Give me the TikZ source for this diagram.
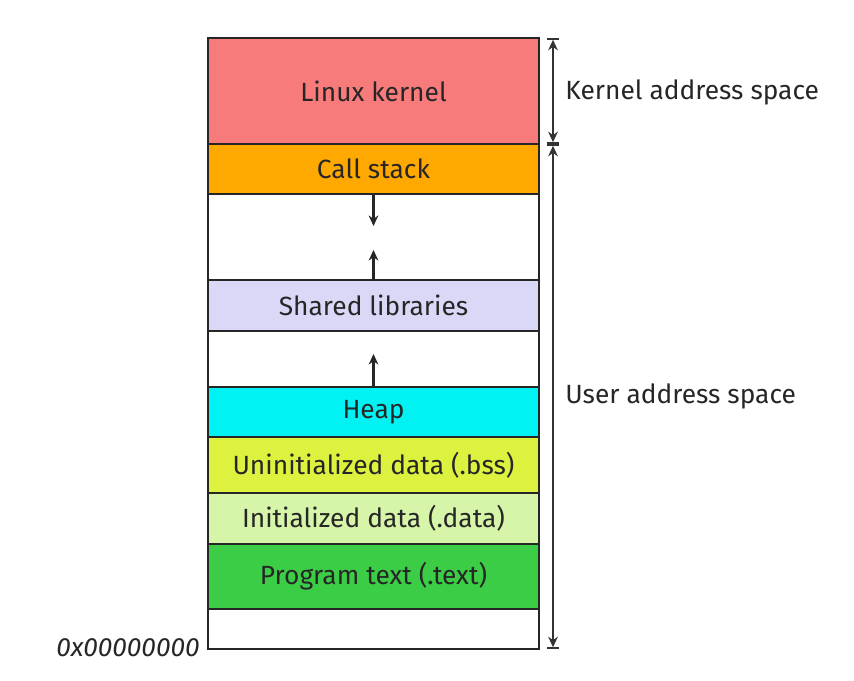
\documentclass[tikz,border=0pt]{standalone}
\usepackage{fontspec}
\setmainfont{Fira Sans}
\usepackage{tikz}
\usetikzlibrary{arrows.meta}

\definecolor{kernelred}{HTML}{F77B7B}
\definecolor{stackorange}{HTML}{FFA800}
\definecolor{libviolet}{HTML}{D9D9F7}
\definecolor{heapcyan}{HTML}{00F2F2}
\definecolor{bssyellow}{HTML}{DDF23F}
\definecolor{datagreen}{HTML}{D6F5A8}
\definecolor{textgreen}{HTML}{3CCD46}

\begin{document}
\begin{tikzpicture}[
            x = 0.02cm, y = -0.02cm, % one unit is one pixel of the reference
            > = {Stealth[length=6pt,width=5.5pt]}, % arrow head style
            font = \fontsize{15}{18}\selectfont,
        ]

        \tikzset{
            band/.style = {
                draw = black!85,
                line width = 1.1pt,
                minimum width = 6.62cm,
                inner sep = 0pt,
                text = black!85
            },
            side/.style = {anchor = west, inner sep = 0pt, text = black!85},
            growarrow/.style = {->, line width = 1.3pt, black!85}
        }

  \useasboundingbox (0,0) rectangle (854,680);

  % segments of the address space, top to bottom
  \node[band, fill=kernelred, minimum height=2.12cm] (kernel) at (373.5,91) {Linux kernel};
  \node[band, fill=stackorange, minimum height=1cm] (stack) at (373.5,169) {Call stack};
  \node[band, minimum height=1.72cm] (gapa) at (373.5,237) {};
  \node[band, fill=libviolet, minimum height=1.02cm] (libs) at (373.5,305.5) {Shared libraries};
  \node[band, minimum height=1.12cm] (gapb) at (373.5,359) {};
  \node[band, fill=heapcyan, minimum height=1cm] (heap) at (373.5,412) {Heap};
  \node[band, fill=bssyellow, minimum height=1.12cm] (bss) at (373.5,465) {Uninitialized data (.bss)};
  \node[band, fill=datagreen, minimum height=1.02cm] (data) at (373.5,518.5) {Initialized data (.data)};
  \node[band, fill=textgreen, minimum height=1.3cm] (text) at (373.5,576.5) {Program text (.text)};
  \node[band, minimum height=0.8cm] (gapc) at (373.5,629) {};

  % growth directions
  \coordinate (stackend) at (373.5,226);
  \coordinate (libsend) at (373.5,250);
  \coordinate (heapend) at (373.5,354);
  \draw[growarrow] (stack.south) -- (stackend);
  \draw[growarrow] (libs.north) -- (libsend);
  \draw[growarrow] (heap.north) -- (heapend);

  % address space ranges
  \coordinate (ktop) at (553,38);
  \coordinate (kbot) at (553,144);
  \coordinate (ubot) at (553,649);
  \draw[|<->|, line width=1pt, black!80] (ktop) -- (kbot);
  \draw[|<->|, line width=1pt, black!80] (kbot) -- (ubot);

  \node[side] (kspace) at (565,92) {Kernel address space};
  \node[side] (uspace) at (565,396) {User address space};
  \node[anchor=east, inner sep=0pt, text=black!85] (zero) at (200,648) {\itshape 0x00000000};

\end{tikzpicture}
\end{document}
